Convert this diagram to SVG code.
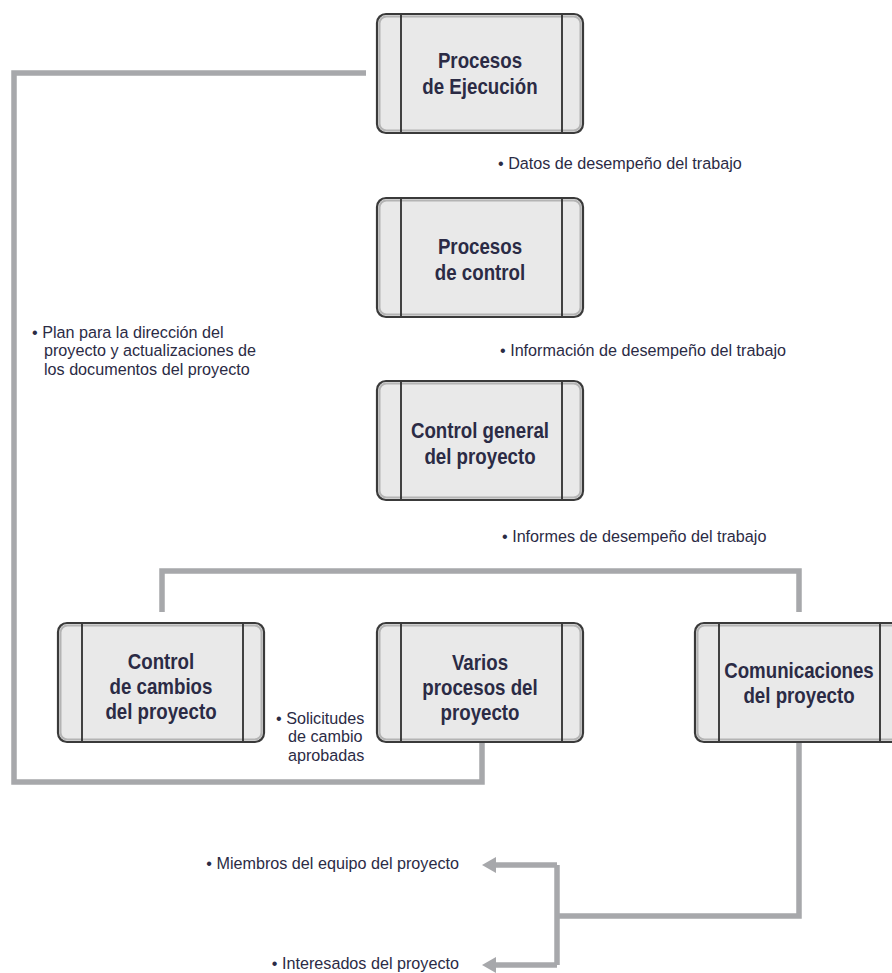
<svg xmlns="http://www.w3.org/2000/svg" width="892" height="973" viewBox="0 0 892 973">
  <defs>
    <style>
      .box { fill: #e9e9e9; stroke: #3a3a3a; stroke-width: 2.2; }
      .bevel { fill: none; stroke: #9c9c9c; stroke-width: 2; opacity: 0.7; }
      .div { stroke: #2f2f2f; stroke-width: 1.8; }
      .ntxt { font-family: "Liberation Sans", Arial, sans-serif; font-weight: bold; font-size: 22px; fill: #2b2b45; text-anchor: middle;
              transform-box: fill-box; transform-origin: center; transform: scaleX(0.85); }
      .ltxt { font-family: "Liberation Sans", Arial, sans-serif; font-size: 16.5px; fill: #2b2b45;
              transform-box: fill-box; transform-origin: left center; transform: scaleX(0.98); }
      .ltxt.end { text-anchor: end; transform-origin: right center; }
      .conn { fill: none; stroke: #a7a8ab; stroke-width: 5.5; stroke-linejoin: miter; stroke-linecap: butt; }
    </style>
    <marker id="arrow" viewBox="0 0 14 16" refX="6" refY="8" markerUnits="userSpaceOnUse" markerWidth="14" markerHeight="16" orient="auto">
      <path d="M0,0 L14,8 L0,16 Z" fill="#a7a8ab"/>
    </marker>
    <g id="shape">
      <rect class="box" x="0" y="0" width="206" height="119" rx="9"/>
      <rect class="bevel" x="2.5" y="2.5" width="201" height="114" rx="7"/>
      <line class="div" x1="24" y1="1" x2="24" y2="118"/>
      <line class="div" x1="185" y1="1" x2="185" y2="118"/>
    </g>
  </defs>

  <!-- connectors -->
  <g id="connectors">
    <polyline class="conn" points="366,73 14,73 14,782 482,782 482,742"/>
    <polyline class="conn" points="162,612 162,571 799,571 799,612"/>
    <polyline class="conn" points="799,742 799,916 557,916"/>
    <polyline class="conn" points="557,865 557,965"/>
    <line class="conn" x1="557" y1="865" x2="490" y2="865" marker-end="url(#arrow)"/>
    <line class="conn" x1="557" y1="965" x2="490" y2="965" marker-end="url(#arrow)"/>
  </g>

  <!-- nodes -->
  <g id="n-ejecucion">
    <use href="#shape" x="377" y="14"/>
    <text class="ntxt" x="480" y="68">Procesos</text>
    <text class="ntxt" x="480" y="94">de Ejecución</text>
  </g>
  <g id="n-control">
    <use href="#shape" x="377" y="198"/>
    <text class="ntxt" x="480" y="254">Procesos</text>
    <text class="ntxt" x="480" y="280">de control</text>
  </g>
  <g id="n-control-general">
    <use href="#shape" x="377" y="381"/>
    <text class="ntxt" x="480" y="438">Control general</text>
    <text class="ntxt" x="480" y="464">del proyecto</text>
  </g>
  <g id="n-cambios">
    <use href="#shape" x="58" y="623"/>
    <text class="ntxt" x="161" y="669">Control</text>
    <text class="ntxt" x="161" y="694">de cambios</text>
    <text class="ntxt" x="161" y="719">del proyecto</text>
  </g>
  <g id="n-varios">
    <use href="#shape" x="377" y="623"/>
    <text class="ntxt" x="480" y="670">Varios</text>
    <text class="ntxt" x="480" y="695">procesos del</text>
    <text class="ntxt" x="480" y="720">proyecto</text>
  </g>
  <g id="n-comunicaciones">
    <use href="#shape" x="695" y="623"/>
    <text class="ntxt" x="799" y="678">Comunicaciones</text>
    <text class="ntxt" x="799" y="703">del proyecto</text>
  </g>

  <!-- labels -->
  <g id="labels">
    <text class="ltxt" x="498" y="169">• Datos de desempeño del trabajo</text>
    <text class="ltxt" x="500" y="356">• Información de desempeño del trabajo</text>
    <text class="ltxt" x="502" y="542">• Informes de desempeño del trabajo</text>
    <text class="ltxt" x="32" y="338">• Plan para la dirección del</text>
    <text class="ltxt" x="44" y="356.5">proyecto y actualizaciones de</text>
    <text class="ltxt" x="44" y="375">los documentos del proyecto</text>
    <text class="ltxt" x="276" y="724">• Solicitudes</text>
    <text class="ltxt" x="288" y="742.5">de cambio</text>
    <text class="ltxt" x="288" y="761">aprobadas</text>
    <text class="ltxt end" x="459" y="869">• Miembros del equipo del proyecto</text>
    <text class="ltxt end" x="459" y="969">• Interesados del proyecto</text>
  </g>
</svg>
